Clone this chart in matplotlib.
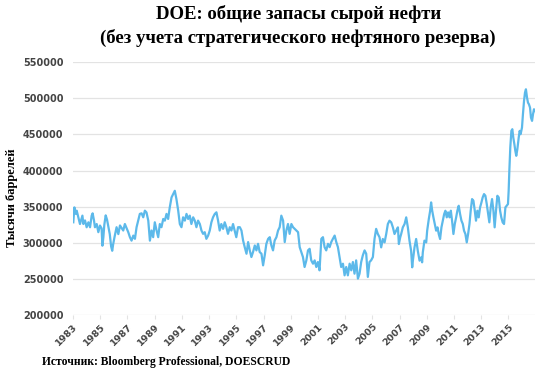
import numpy as np
import matplotlib.pyplot as plt

# weekly crude stocks (thousand barrels)
years = [
    1983.02, 1983.10, 1983.20, 1983.27, 1983.39, 1983.51, 1983.59, 1983.69, 1983.76, 1983.88,
    1984.00, 1984.13, 1984.25, 1984.37, 1984.44, 1984.54, 1984.61, 1984.74, 1984.86, 1984.98,
    1985.10, 1985.16, 1985.23, 1985.30, 1985.40, 1985.50, 1985.60, 1985.70, 1985.80, 1985.88,
    1985.95, 1986.05, 1986.20, 1986.33, 1986.45, 1986.69, 1986.81, 1987.06, 1987.18, 1987.30,
    1987.43, 1987.55, 1987.67, 1987.79, 1987.91, 1988.04, 1988.16, 1988.28, 1988.40, 1988.53,
    1988.65, 1988.77, 1988.89, 1989.01, 1989.14, 1989.26, 1989.38, 1989.50, 1989.63, 1989.75,
    1989.87, 1989.99, 1990.11, 1990.24, 1990.36, 1990.48, 1990.60, 1990.73, 1990.85, 1990.97,
    1991.09, 1991.22, 1991.34, 1991.46, 1991.58, 1991.70, 1991.83, 1991.95, 1992.07, 1992.19,
    1992.32, 1992.44, 1992.56, 1992.68, 1992.80, 1992.93, 1993.05, 1993.17, 1993.29, 1993.42,
    1993.54, 1993.66, 1993.78, 1993.90, 1994.03, 1994.15, 1994.27, 1994.39, 1994.52, 1994.64,
    1994.76, 1994.88, 1995.00, 1995.13, 1995.26, 1995.38, 1995.50, 1995.62, 1995.75, 1995.87,
    1995.99, 1996.11, 1996.23, 1996.36, 1996.48, 1996.60, 1996.72, 1996.85, 1996.97, 1997.09,
    1997.21, 1997.34, 1997.46, 1997.58, 1997.70, 1997.82, 1997.95, 1998.07, 1998.19, 1998.31,
    1998.44, 1998.56, 1998.68, 1998.80, 1998.92, 1999.05, 1999.17, 1999.29, 1999.41, 1999.54,
    1999.66, 1999.78, 1999.90, 2000.02, 2000.15, 2000.27, 2000.39, 2000.51, 2000.64, 2000.76,
    2000.88, 2001.00, 2001.12, 2001.25, 2001.37, 2001.49, 2001.61, 2001.74, 2001.86, 2001.98,
    2002.10, 2002.23, 2002.35, 2002.47, 2002.59, 2002.71, 2002.84, 2002.96, 2003.08, 2003.20,
    2003.33, 2003.45, 2003.57, 2003.69, 2003.81, 2003.94, 2004.06, 2004.18, 2004.30, 2004.43,
    2004.55, 2004.67, 2004.79, 2004.91, 2005.04, 2005.16, 2005.28, 2005.40, 2005.53, 2005.65,
    2005.77, 2005.90, 2006.02, 2006.14, 2006.26, 2006.39, 2006.51, 2006.63, 2006.75, 2006.88,
    2006.95, 2007.05, 2007.12, 2007.24, 2007.37, 2007.49, 2007.61, 2007.73, 2007.85, 2007.93,
    2007.98, 2008.10, 2008.22, 2008.34, 2008.47, 2008.59, 2008.66, 2008.71, 2008.83, 2008.96,
    2009.03, 2009.15, 2009.25, 2009.32, 2009.40, 2009.49, 2009.59, 2009.69, 2009.79, 2009.88,
    2009.98, 2010.08, 2010.18, 2010.28, 2010.37, 2010.47, 2010.57, 2010.67, 2010.77, 2010.86,
    2010.96, 2011.06, 2011.16, 2011.25, 2011.35, 2011.45, 2011.55, 2011.65, 2011.74, 2011.84,
    2011.94, 2012.04, 2012.14, 2012.23, 2012.33, 2012.43, 2012.53, 2012.62, 2012.72, 2012.82,
    2012.92, 2013.02, 2013.11, 2013.21, 2013.31, 2013.41, 2013.51, 2013.60, 2013.70, 2013.80,
    2013.90, 2013.99, 2014.09, 2014.19, 2014.29, 2014.39, 2014.48, 2014.58, 2014.68, 2014.78,
    2014.88, 2014.97, 2015.02, 2015.07, 2015.14, 2015.22, 2015.29, 2015.36, 2015.44, 2015.51,
    2015.58, 2015.66, 2015.76, 2015.83, 2015.90, 2016.00, 2016.07, 2016.15, 2016.22, 2016.29,
    2016.37, 2016.44, 2016.51, 2016.59, 2016.66, 2016.74, 2016.81, 2016.88, 2016.96,
]
stocks = [
    328400, 349000, 340000, 344500, 335000, 326000, 331000, 337600, 326000, 331000,
    321500, 328400, 321500, 337600, 340800, 331000, 321500, 326000, 314700, 323900,
    320000, 296000, 307800, 325000, 338000, 332000, 322000, 312000, 295000, 289000,
    298000, 308000, 321600, 312000, 324000, 317000, 326000, 314700, 307800, 303000,
    310000, 305500, 321600, 330700, 340000, 340800, 335300, 344500, 342000, 330700,
    303000, 317000, 307800, 328400, 317000, 307800, 326000, 321600, 333000, 330700,
    340000, 333000, 349000, 362800, 367400, 372000, 360500, 344500, 326000, 321600,
    335300, 330700, 340000, 333000, 337600, 326000, 335300, 330700, 321600, 330700,
    326000, 317000, 312400, 314700, 305500, 310000, 317000, 328400, 335300, 340000,
    342200, 330700, 317000, 326000, 319300, 328400, 321600, 312400, 321600, 317000,
    326000, 317000, 307800, 321600, 321600, 317000, 303200, 294000, 284900, 301000,
    289500, 280300, 287200, 296300, 289500, 298600, 287200, 284900, 268800, 282600,
    298600, 305500, 307800, 296300, 289500, 303200, 307800, 317000, 321600, 337600,
    330700, 301000, 317000, 326000, 312400, 326000, 321600, 319300, 317000, 314700,
    294000, 287200, 280300, 266500, 275700, 289500, 291700, 275700, 271100, 275700,
    266500, 273400, 261900, 305500, 307800, 294000, 289500, 298600, 294000, 301000,
    305500, 310000, 301000, 294000, 280300, 266500, 271100, 255000, 266500, 255000,
    271100, 261900, 273400, 257300, 275700, 250500, 257300, 273400, 282600, 289500,
    284900, 252800, 273400, 275700, 280300, 305500, 319300, 312400, 307600, 293700,
    305300, 300600, 312200, 326000, 330600, 328300, 321400, 312200, 316800, 321400,
    298300, 307600, 312200, 321400, 326000, 335200, 321400, 303000, 289100, 266100,
    275300, 293700, 305300, 289100, 275300, 279900, 273000, 286800, 303000, 300600,
    316800, 332900, 344400, 355900, 344400, 335200, 326000, 316800, 321400, 312200,
    305300, 321400, 330600, 339800, 344400, 335200, 342100, 335200, 344400, 330600,
    312200, 326000, 335200, 344400, 351300, 339800, 330600, 326000, 316800, 312200,
    300600, 312200, 326000, 344400, 360500, 358200, 344400, 330600, 344400, 335200,
    349000, 355900, 362800, 367400, 365100, 353600, 339800, 328300, 349000, 360500,
    344400, 321400, 344400, 365100, 362800, 344400, 335200, 328300, 326000, 349000,
    351300, 353600, 372000, 399600, 431900, 454900, 457200, 445700, 436500, 427300,
    420400, 429600, 445700, 454900, 450300, 459500, 477900, 496300, 507800, 512400,
    500900, 494000, 491700, 487100, 473300, 468700, 477900, 484800, 482500,
]
tick_years = list(range(1983, 2016, 2))
y_ticks = [200000, 250000, 300000, 350000, 400000, 450000, 500000, 550000]

title1 = 'DOE: общие запасы сырой нефти'
title2 = '(без учета стратегического нефтяного резерва)'
ylabel = 'Тысячи баррелей'
source = 'Источник: Bloomberg Professional, DOESCRUD'

fig = plt.figure(figsize=(5.41, 3.72), dpi=100)
ax = fig.add_axes([0.135, 0.153, 0.854, 0.680])

ax.plot(years, stocks, color='#5cb9ea', lw=1.6)

ax.set_xlim(1983, 2016.96)
ax.set_ylim(200000, 550000)
ax.set_xticks(tick_years)
ax.set_xticklabels([str(t) for t in tick_years], rotation=45, ha='right',
                   rotation_mode='anchor')
ax.set_yticks(y_ticks)
ax.set_yticklabels([str(v) for v in y_ticks])
ax.grid(axis='y', color='#e3e3e3', lw=0.9)
ax.set_axisbelow(True)
for s in ax.spines.values():
    s.set_visible(False)
ax.tick_params(axis='y', length=0, pad=7, labelsize=7, labelcolor='#444444')
ax.tick_params(axis='x', length=3, color='#e3e3e3', pad=2, labelsize=6.8,
               labelcolor='#444444')
for lab in ax.get_xticklabels() + ax.get_yticklabels():
    lab.set_fontweight('bold')

fig.text(0.552, 0.963, title1, ha='center', va='center', family='Liberation Serif',
         fontweight='bold', fontsize=13.5)
fig.text(0.550, 0.898, title2, ha='center', va='center', family='Liberation Serif',
         fontweight='bold', fontsize=13.5)
fig.text(0.022, 0.468, ylabel, rotation=90, ha='center', va='center',
         family='Liberation Serif', fontweight='bold', fontsize=9)
fig.text(0.078, 0.027, source, ha='left', va='center', family='Liberation Serif',
         fontweight='bold', fontsize=8.4)

fig.savefig('out.png', dpi=100)
